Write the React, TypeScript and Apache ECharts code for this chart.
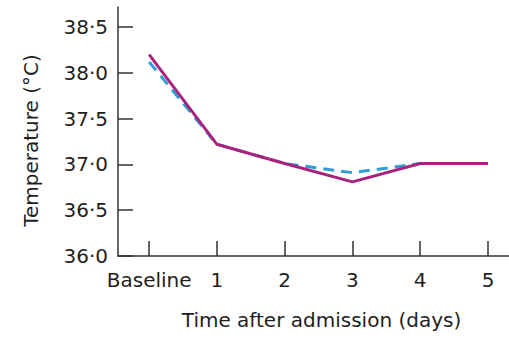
import React, { useEffect, useRef } from "react";
import * as echarts from "echarts";

const categories = ["Baseline", "1", "2", "3", "4", "5"];
const xPositions = [0, 1, 2, 3, 4, 5];
const solidTemps = [38.2, 37.22, 37.01, 36.81, 37.01, 37.01];
const dashedTemps = [38.12, 37.22, 37.01, 36.91, 37.01, 37.01];
const yTicks = [36, 36.5, 37, 37.5, 38, 38.5];

const FONT = "'DejaVu Sans', 'Liberation Sans', Arial, sans-serif";
const AXIS_COLOR = "#333333";
const TEXT_COLOR = "#1f1f1f";

export default function App() {
  const ref = useRef<HTMLDivElement>(null);
  useEffect(() => {
    if (!ref.current) return;
    const chart = echarts.init(ref.current, undefined, { renderer: "svg" });
    const solidData = xPositions.map((x, i) => [x, solidTemps[i]]);
    const dashedData = xPositions.map((x, i) => [x, dashedTemps[i]]);
    chart.setOption({
      animation: false,
      backgroundColor: "#ffffff",
      grid: { left: 118, right: 0, top: 7, bottom: 82, containLabel: false },
      xAxis: {
        type: "value",
        min: -0.46,
        max: 5.31,
        name: "Time after admission (days)",
        nameLocation: "middle",
        nameGap: 54,
        nameTextStyle: { fontSize: 20, color: TEXT_COLOR, fontFamily: FONT, padding: [0, 0, 0, 16] },
        axisLine: { show: true, onZero: false, lineStyle: { color: AXIS_COLOR, width: 1.5 } },
        axisTick: { show: true, inside: true, length: 15, customValues: xPositions, lineStyle: { color: AXIS_COLOR, width: 1.5 } },
        axisLabel: {
          show: true,
          customValues: xPositions,
          margin: 14,
          fontSize: 20,
          color: TEXT_COLOR,
          fontFamily: FONT,
          formatter: (v: number) => categories[Math.round(v)] ?? "",
        },
        splitLine: { show: false },
      },
      yAxis: {
        type: "value",
        min: 36,
        max: 38.72,
        name: "Temperature (°C)",
        nameLocation: "middle",
        nameGap: 77,
        nameTextStyle: { fontSize: 20, color: TEXT_COLOR, fontFamily: FONT, padding: [0, 18, 0, 0] },
        axisLine: { show: true, onZero: false, lineStyle: { color: AXIS_COLOR, width: 1.5 } },
        axisTick: { show: true, inside: true, length: 15, customValues: yTicks, lineStyle: { color: AXIS_COLOR, width: 1.5 } },
        axisLabel: {
          show: true,
          customValues: yTicks,
          margin: 10,
          fontSize: 20,
          color: TEXT_COLOR,
          fontFamily: FONT,
          formatter: (v: number) => v.toFixed(1).replace(".", "·"),
        },
        splitLine: { show: false },
      },
      series: [
        {
          type: "line",
          data: dashedData,
          symbol: "none",
          z: 2,
          lineStyle: { color: "#2f9fd3", width: 3, type: [11, 7] },
        },
        {
          type: "line",
          data: solidData,
          symbol: "none",
          z: 3,
          lineStyle: { color: "#a8237f", width: 3 },
        },
      ],
    });
    return () => chart.dispose();
  }, []);
  return (
    <div
      ref={ref}
      style={{ position: "fixed", left: 0, top: 0, width: 509, height: 338, background: "#fff" }}
    />
  );
}
